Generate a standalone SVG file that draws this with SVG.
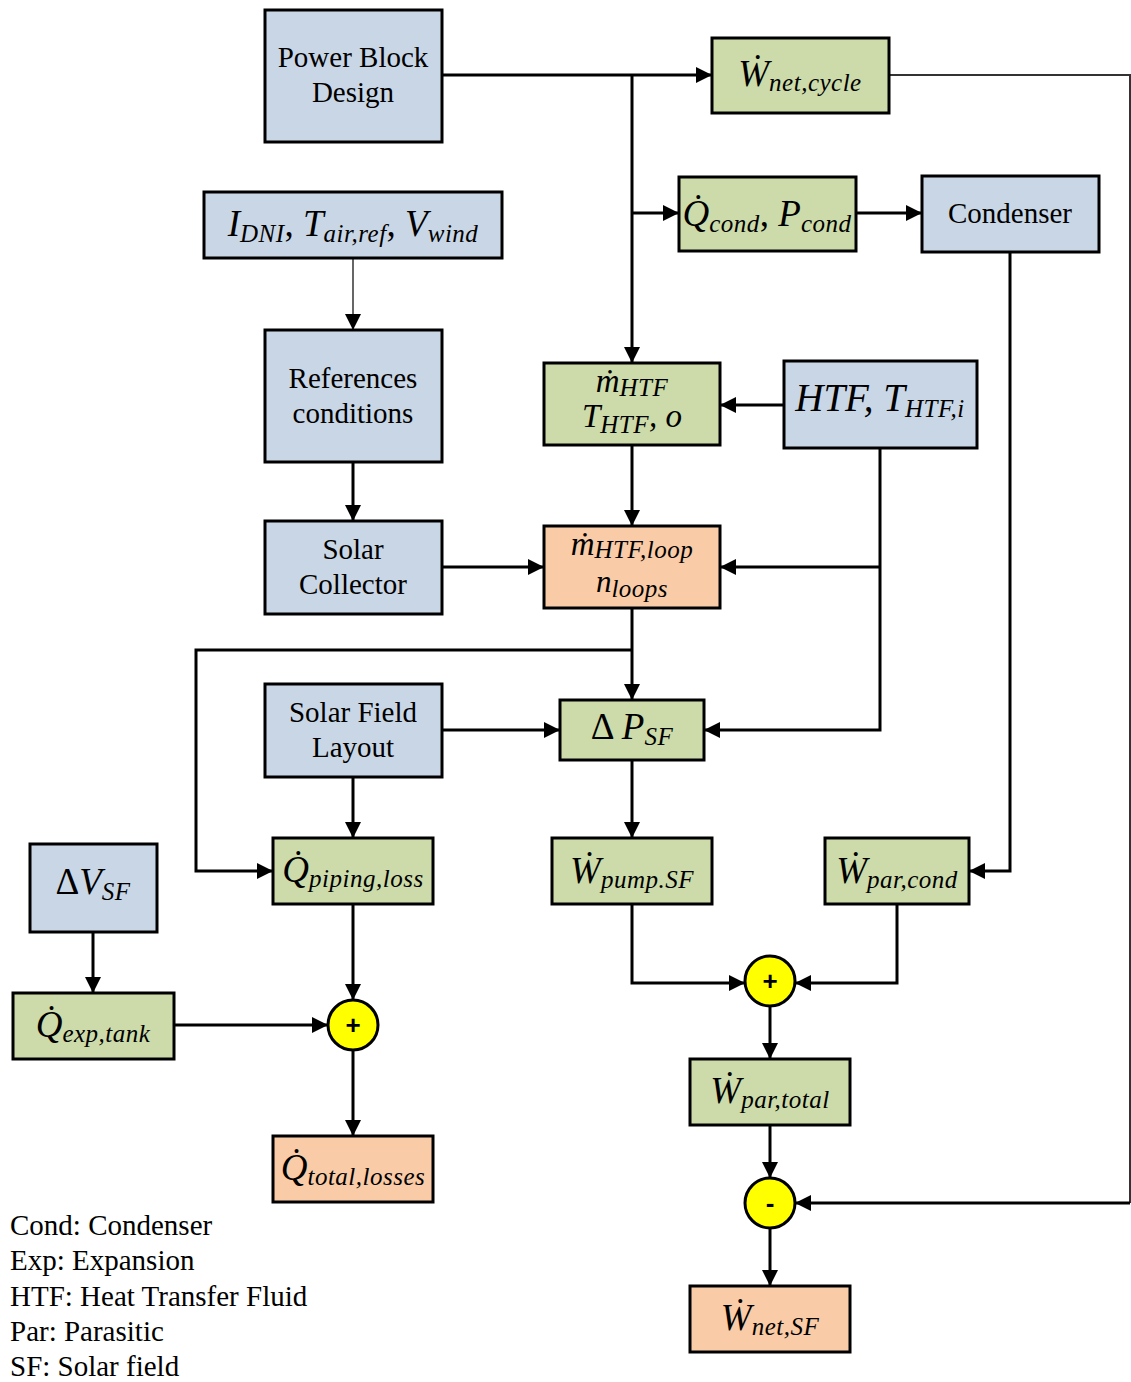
<svg xmlns="http://www.w3.org/2000/svg" width="1131" height="1382" viewBox="0 0 1131 1382">
<defs>
<marker id="ah" markerWidth="18" markerHeight="18" refX="16" refY="8" orient="auto" markerUnits="userSpaceOnUse">
<path d="M0,0 L16,8 L0,16 z" fill="#000"/>
</marker>
<style>
.bl{fill:#c9d6e5;stroke:#000;stroke-width:3}
.gr{fill:#ccdba9;stroke:#000;stroke-width:3}
.or{fill:#f9cba7;stroke:#000;stroke-width:3}
.ci{fill:#ffff00;stroke:#000;stroke-width:3}
.t{font-family:"Liberation Serif",serif;font-size:29px;fill:#000;text-anchor:middle}
.m{font-family:"Liberation Serif",serif;font-style:italic;font-size:37px;fill:#000;text-anchor:middle}
.m2{font-size:33px}
.s{font-size:25px;letter-spacing:0.5px}
.u{font-style:normal}
.op{font-family:"Liberation Sans",sans-serif;font-weight:bold;font-size:26px;text-anchor:middle}
.c{fill:none;stroke:#000;stroke-width:3}
.ca{fill:none;stroke:#000;stroke-width:3;marker-end:url(#ah)}
.lg{font-family:"Liberation Serif",serif;font-size:29px;fill:#000}
</style>
</defs>
<g id="connectors">
<path class="ca" d="M442,75 H712"/>
<path class="ca" d="M632,75 V363"/>
<path class="ca" d="M632,213 H679"/>
<path class="c" d="M889,75 H1130 V1203" style="stroke-width:2;stroke:#333"/>
<path class="ca" d="M1130,1203 H795"/>
<path class="ca" d="M856,213 H922"/>
<path class="ca" d="M1010,252 V871 H969"/>
<path d="M353,258 V330" fill="none" stroke="#000" stroke-width="1.2" marker-end="url(#ah)"/>
<path class="ca" d="M353,462 V521"/>
<path class="ca" d="M784,405 H720"/>
<path class="ca" d="M632,445 V526"/>
<path class="ca" d="M880,448 V730 H704"/>
<path class="ca" d="M880,567 H720"/>
<path class="ca" d="M442,567 H544"/>
<path class="ca" d="M632,608 V700"/>
<path class="ca" d="M632,650 H196 V871 H273"/>
<path class="ca" d="M442,730 H560"/>
<path class="ca" d="M353,777 V838"/>
<path class="ca" d="M632,760 V838"/>
<path class="ca" d="M353,895 V1000"/>
<path class="ca" d="M93,932 V993"/>
<path class="ca" d="M174,1025 H328"/>
<path class="ca" d="M353,1050 V1136"/>
<path class="ca" d="M632,904 V983 H745"/>
<path class="ca" d="M897,904 V983 H795"/>
<path class="ca" d="M770,1006 V1059"/>
<path class="ca" d="M770,1125 V1178"/>
<path class="ca" d="M770,1228 V1286"/>
</g>
<g id="power-block">
<rect class="bl" x="265" y="10" width="177" height="132"/>
<text class="t" x="353" y="67">Power Block</text>
<text class="t" x="353" y="102">Design</text>
</g>
<g id="w-net-cycle">
<rect class="gr" x="712" y="38" width="177" height="75"/>
<text class="m" x="800" y="86">Ẇ<tspan class="s" dy="5">net,cycle</tspan></text>
</g>
<g id="inputs">
<rect class="bl" x="204" y="192" width="298" height="66"/>
<text class="m" x="353" y="236">I<tspan class="s" dy="6">DNI</tspan><tspan dy="-6" class="u">, </tspan>T<tspan class="s" dy="6">air,ref</tspan><tspan dy="-6" class="u">, </tspan>V<tspan class="s" dy="6">wind</tspan></text>
</g>
<g id="q-cond">
<rect class="gr" x="679" y="177" width="177" height="74"/>
<text class="m" x="767" y="226">Q̇<tspan class="s" dy="6">cond</tspan><tspan dy="-6" class="u">, </tspan>P<tspan class="s" dy="6">cond</tspan></text>
</g>
<g id="condenser">
<rect class="bl" x="922" y="176" width="177" height="76"/>
<text class="t" x="1010" y="223">Condenser</text>
</g>
<g id="references">
<rect class="bl" x="265" y="330" width="177" height="132"/>
<text class="t" x="353" y="388">References</text>
<text class="t" x="353" y="423">conditions</text>
</g>
<g id="m-htf">
<rect class="gr" x="544" y="363" width="176" height="82"/>
<text class="m m2" x="632" y="392">ṁ<tspan class="s" dy="4">HTF</tspan><tspan x="632" y="427">T</tspan><tspan class="s" dy="6">HTF</tspan><tspan dy="-6">, o</tspan></text>
</g>
<g id="htf-input">
<rect class="bl" x="784" y="361" width="193" height="87"/>
<text class="m" x="880" y="411" style="font-size:39px">HTF, T<tspan class="s" dy="6">HTF,i</tspan></text>
</g>
<g id="solar-collector">
<rect class="bl" x="265" y="521" width="177" height="93"/>
<text class="t" x="353" y="559">Solar</text>
<text class="t" x="353" y="594">Collector</text>
</g>
<g id="m-htf-loop">
<rect class="or" x="544" y="526" width="176" height="82"/>
<text class="m m2" x="632" y="555">ṁ<tspan class="s" dy="3">HTF,loop</tspan></text>
<text class="m" x="632" y="592" style="font-size:31px">n<tspan class="s" dy="5">loops</tspan></text>
</g>
<g id="solar-field-layout">
<rect class="bl" x="265" y="684" width="177" height="93"/>
<text class="t" x="353" y="722">Solar Field</text>
<text class="t" x="353" y="757">Layout</text>
</g>
<g id="delta-p-sf">
<rect class="gr" x="560" y="700" width="144" height="60"/>
<text class="m" x="632" y="739"><tspan class="u">Δ </tspan>P<tspan class="s" dy="6">SF</tspan></text>
</g>
<g id="q-piping">
<rect class="gr" x="273" y="838" width="160" height="66"/>
<text class="m" x="353" y="882">Q̇<tspan class="s" dy="5">piping,loss</tspan></text>
</g>
<g id="w-pump">
<rect class="gr" x="552" y="838" width="160" height="66"/>
<text class="m" x="632" y="883">Ẇ<tspan class="s" dy="5">pump.SF</tspan></text>
</g>
<g id="w-par-cond">
<rect class="gr" x="825" y="838" width="144" height="66"/>
<text class="m" x="897" y="883">Ẇ<tspan class="s" dy="5">par,cond</tspan></text>
</g>
<g id="delta-v-sf">
<rect class="bl" x="30" y="844" width="127" height="88"/>
<text class="m" x="93" y="894"><tspan class="u">Δ</tspan>V<tspan class="s" dy="6">SF</tspan></text>
</g>
<g id="q-exp-tank">
<rect class="gr" x="13" y="993" width="161" height="66"/>
<text class="m" x="93" y="1037">Q̇<tspan class="s" dy="5">exp,tank</tspan></text>
</g>
<g id="sum-losses">
<circle class="ci" cx="353" cy="1025" r="25"/>
<text class="op" x="353" y="1034">+</text>
</g>
<g id="sum-parasitic">
<circle class="ci" cx="770" cy="981" r="25"/>
<text class="op" x="770" y="990">+</text>
</g>
<g id="w-par-total">
<rect class="gr" x="690" y="1059" width="160" height="66"/>
<text class="m" x="770" y="1103">Ẇ<tspan class="s" dy="5">par,total</tspan></text>
</g>
<g id="subtract">
<circle class="ci" cx="770" cy="1203" r="25"/>
<text class="op" x="770" y="1212">-</text>
</g>
<g id="q-total-losses">
<rect class="or" x="273" y="1136" width="160" height="66"/>
<text class="m" x="353" y="1180">Q̇<tspan class="s" dy="5">total,losses</tspan></text>
</g>
<g id="w-net-sf">
<rect class="or" x="690" y="1286" width="160" height="66"/>
<text class="m" x="770" y="1330">Ẇ<tspan class="s" dy="5">net,SF</tspan></text>
</g>
<g id="legend">
<text class="lg" x="10" y="1235">Cond: Condenser</text>
<text class="lg" x="10" y="1270">Exp: Expansion</text>
<text class="lg" x="10" y="1306">HTF: Heat Transfer Fluid</text>
<text class="lg" x="10" y="1341">Par: Parasitic</text>
<text class="lg" x="10" y="1376">SF: Solar field</text>
</g>
</svg>
